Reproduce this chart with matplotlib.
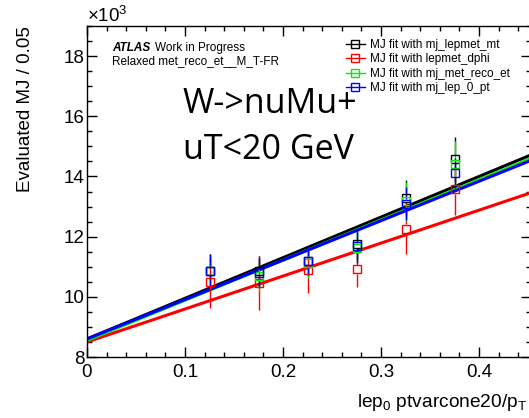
import matplotlib
matplotlib.use("Agg")
import matplotlib.pyplot as plt
from matplotlib.lines import Line2D
from matplotlib.ticker import MultipleLocator, FuncFormatter
import numpy as np

plt.rcParams['font.family'] = ['Liberation Sans', 'DejaVu Sans']
plt.rcParams['mathtext.fontset'] = 'custom'
plt.rcParams['mathtext.rm'] = 'Liberation Sans'
plt.rcParams['mathtext.it'] = 'Liberation Sans:italic'

# data (y in units of 10^3)
x_bins = [0.125, 0.175, 0.225, 0.275, 0.325, 0.375]
labels = ["MJ fit with mj_lepmet_mt", "MJ fit with lepmet_dphi",
          "MJ fit with mj_met_reco_et", "MJ fit with mj_lep_0_pt"]
colors = ["#000000", "#ff0000", "#00ee00", "#0000ff"]

y_mt = [10.87, 10.85, 11.20, 11.76, 13.29, 14.57]
y_dphi = [10.48, 10.45, 10.88, 10.92, 12.26, 13.57]
y_met = [10.87, 10.68, 11.13, 11.63, 13.18, 14.42]
y_pt = [10.87, 10.79, 11.20, 11.68, 13.10, 14.12]

e_mt = [0.55, 0.50, 0.50, 0.50, 0.60, 0.75]
e_dphi = [0.85, 0.90, 0.75, 0.60, 0.85, 0.85]
e_met = [0.55, 0.50, 0.50, 0.50, 0.65, 0.75]
e_pt = [0.55, 0.50, 0.48, 0.55, 0.55, 0.50]

# linear fit parameters (intercept, slope)
fit_int = [8.60, 8.50, 8.55, 8.60]
fit_slope = [13.5, 10.95, 13.35, 13.1]

ys = [y_mt, y_dphi, y_met, y_pt]
es = [e_mt, e_dphi, e_met, e_pt]

W, H = 529, 418
fig = plt.figure(figsize=(W / 100, H / 100), dpi=100)
ax = fig.add_axes([87 / W, (H - 357) / H, (531 - 87) / W, (357 - 26) / H])
ax.set_xlim(0, 0.453)
ax.set_ylim(8, 19)

xf = np.linspace(0, 0.453, 50)
gap = 0.15  # half marker height in data units
for y, e, c, b0, b1 in zip(ys, es, colors, fit_int, fit_slope):
    ax.plot(xf, b0 + b1 * xf, color=c, lw=2.2, zorder=2)
    y = np.array(y)
    e = np.array(e)
    ax.vlines(x_bins, y + gap, y + e, color=c, lw=1, zorder=3)
    ax.vlines(x_bins, y - e, y - gap, color=c, lw=1, zorder=3)
    ax.plot(x_bins, y, ls='none', marker='s', ms=6.2, mfc='none', mec=c,
            mew=1, zorder=4)

ax.xaxis.set_major_locator(MultipleLocator(0.1))
ax.xaxis.set_minor_locator(MultipleLocator(0.02))
ax.yaxis.set_major_locator(MultipleLocator(2))
ax.yaxis.set_minor_locator(MultipleLocator(0.5))
ax.xaxis.set_major_formatter(FuncFormatter(lambda v, p: "0" if v == 0 else f"{v:g}"))
ax.yaxis.set_major_formatter(FuncFormatter(lambda v, p: f"{v:g}"))
ax.tick_params(which='both', direction='in', top=True, right=True, width=1,
               labelsize=13.5)
ax.tick_params(which='major', length=7)
ax.tick_params(which='minor', length=3.5)
ax.tick_params(axis='x', pad=5)
ax.tick_params(axis='y', pad=2)
for s in ax.spines.values():
    s.set_linewidth(1)

ax.text(0, 1.0, r"$\times$10$^{3}$", transform=ax.transAxes, ha='left',
        va='bottom', fontsize=13.5)

fig.text(26 / W, 1 - 26 / H, "Evaluated MJ / 0.05", rotation=90, ha='center',
         va='top', fontsize=13.5)
fig.text(357 / W, 1 - 407 / H, r"lep$_0$ ptvarcone20/p$_\mathrm{T}$",
         ha='left', va='baseline', fontsize=13.8)

fig.text(112 / W, 1 - 51 / H, "ATLAS", fontweight='bold', style='italic',
         fontsize=8.5, ha='left', va='baseline')
fig.text(155 / W, 1 - 51 / H, "Work in Progress", fontsize=8.5, ha='left',
         va='baseline')
fig.text(112 / W, 1 - 64 / H, "Relaxed met_reco_et__M_T-FR", fontsize=8.5,
         ha='left', va='baseline')

fig.text(183 / W, 1 - 113 / H, "W->nuMu+", family='Open Sans', fontsize=24.5,
         ha='left', va='baseline')
fig.text(183 / W, 1 - 159 / H, "uT<20 GeV", family='Open Sans', fontsize=24.5,
         ha='left', va='baseline')

handles = [Line2D([], [], color=c, lw=1, marker='s', ms=6, mfc='none', mec=c)
           for c in colors]
ax.legend(handles, labels, loc='upper left', frameon=False, fontsize=8.5,
          bbox_to_anchor=(346 / W, 1 - 39 / H), bbox_transform=fig.transFigure,
          handlelength=1.6, handletextpad=0.4, labelspacing=0.2, borderpad=0,
          borderaxespad=0)

fig.savefig("out.png", dpi=100)
